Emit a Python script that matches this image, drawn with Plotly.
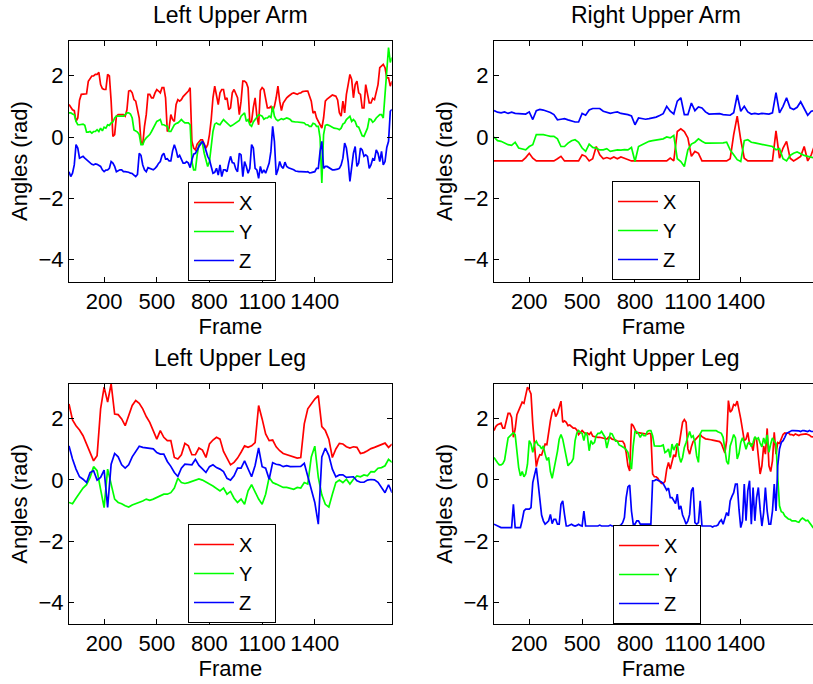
import math
import plotly.graph_objects as go

# ---------------- data ----------------
frames = list(range(0, 1841, 20))        # samples read at every 20th frame
frames_mid = list(range(10, 1841, 20))   # extra samples read in between (noisy series)

x_tick_vals = [200, 500, 800, 1100, 1400]
x_tick_text = ["200", "500", "800", "1100", "1400"]
y_tick_vals = [-4, -2, 0, 2]
y_tick_text = ["\u22124", "\u22122", "0", "2"]

titles = ["Left Upper Arm", "Right Upper Arm", "Left Upper Leg", "Right Upper Leg"]
series_names = ["X", "Y", "Z"]
series_colors = ["#ff0000", "#00ff00", "#0000ff"]

# --- Left Upper Arm ---
LUA_X = [1.06, 0.89, 0.51, 1.2, 1.39, 1.41, 1.93, 1.99, 2.04, 1.71,
         1.55, 2.04, 1.17, 0.08, 0.73, 0.73, 0.68, 1.5, 1.44, 1.17,
         0.62, -0.25, 0.73, 1.39, 1.28, 1.55, 1.44, 1.61, 0.18, 0.73,
         0.51, 1.22, 1.22, 1.39, 1.5, -0.14, -0.42, -0.14, -0.09, -0.36,
         0.08, 1.28, 1.39, 1.44, 1.55, 1.28, 0.95, 1.55, 1.28, 1.17,
         1.82, 1.61, 0.51, 1.28, 0.4, 1.61, 1.17, 0.95, 0.84, 1.28,
         1.17, 1.11, 1.28, 1.39, 1.44, 1.39, 1.44, 1.5, 1.5, 1.17,
         0.84, 0.51, 0.29, 1.17, 1.28, 1.37, 1.33, 0.79, 1.17, 1.39,
         2.04, 1.28, 1.82, 1.39, 0.95, 1.39, 1.11, 1.22, 1.71, 2.32,
         2.26, 1.93, 1.82]
LUA_X_MID = [0.97, 0.86, 0.62, 1.39, 1.39, 1.82, 1.99, 2.04, 2.11, 1.58,
             1.55, 1.99, 0.02, 0.68, 0.73, 0.73, 0.89, 1.52, 1.22, 0.84,
             -0.14, 0.35, 1.39, 1.28, 1.44, 1.5, 1.61, 1.28, 0.29, 0.57,
             1.06, 1.17, 1.32, 1.44, 1.61, -0.36, -0.23, -0.09, -0.25, -0.25,
             0.57, 1.66, 1.06, 1.55, 1.22, 0.89, 1.44, 1.39, 0.73, 1.82,
             1.77, 0.46, 0.97, 0.68, 1.52, 1.55, 0.95, 1.0, 1.0, 1.66,
             0.86, 1.22, 1.33, 1.42, 1.41, 1.43, 1.48, 1.5, 1.3, 0.78,
             0.62, 0.35, 0.62, 1.24, 1.34, 1.35, 1.21, 0.68, 0.79, 1.71,
             1.88, 1.71, 1.44, 0.95, 1.71, 1.11, 1.26, 1.44, 2.26, 2.37,
             1.93, 1.66]
LUA_Y = [0.79, 0.75, 0.51, 0.4, 0.42, 0.16, 0.18, 0.18, 0.24, 0.29,
         0.32, 0.4, 0.46, 0.62, 0.68, 0.68, 0.73, 0.79, 0.62, 0.2,
         0.08, -0.25, -0.03, 0.08, 0.29, 0.51, 0.57, 0.4, 0.35, 0.18,
         0.4, 0.46, 0.57, 0.46, 0.46, -0.8, -1.07, -0.25, -0.2, -0.8,
         -0.8, 0.18, 0.46, 0.4, 0.57, 0.46, 0.35, 0.42, 0.49, 0.68,
         0.79, 0.57, 0.35, 0.57, 0.73, 0.68, 0.62, 0.68, 1.0, 0.57,
         0.57, 0.57, 0.62, 0.57, 0.49, 0.49, 0.49, 0.46, 0.4, 0.35,
         0.43, 0.35, -1.5, 0.38, 0.38, 0.32, 0.29, 0.24, 0.42, 0.57,
         0.68, 0.57, 0.35, 0.18, 0.02, 0.29, 0.57, 0.53, 0.68, 0.73,
         1.39, 2.92, 2.59]
LUA_Y_MID = [0.79, 0.73, 0.4, 0.4, 0.38, 0.16, 0.13, 0.18, 0.18, 0.2,
             0.29, 0.38, 0.49, 0.68, 0.68, 0.68, 0.79, 0.75, 0.23, 0.16,
             -0.25, -0.1, 0.02, 0.18, 0.4, 0.54, 0.4, 0.37, 0.18, 0.29,
             0.44, 0.51, 0.51, 0.46, 0.4, -1.07, -0.58, -0.17, -0.53, -0.96,
             -0.31, 0.42, 0.42, 0.49, 0.51, 0.4, 0.38, 0.46, 0.54, 0.75,
             0.51, 0.4, 0.49, 0.68, 0.71, 0.58, 0.62, 0.64, 0.68, 0.53,
             0.6, 0.59, 0.6, 0.51, 0.49, 0.49, 0.47, 0.4, 0.35, 0.45,
             0.35, -0.03, 0.08, 0.4, 0.34, 0.29, 0.27, 0.29, 0.46, 0.62,
             0.51, 0.51, 0.32, 0.04, 0.16, 0.59, 0.48, 0.62, 0.73, 0.62,
             2.04, 2.43]
LUA_Z = [-1.13, -1.18, -0.25, -0.69, -0.63, -0.74, -0.85, -0.91, -0.89, -0.96,
         -1.13, -1.07, -0.8, -0.96, -1.1, -1.07, -1.13, -1.15, -1.19, -1.29,
         -0.53, -0.91, -1.13, -1.02, -1.07, -0.96, -0.8, -0.53, -0.71, -0.78,
         -0.25, -0.67, -0.74, -0.85, -0.85, -0.74, -0.53, -0.31, -0.14, -0.47,
         -0.74, -1.18, -1.02, -0.91, -1.07, -1.13, -0.63, -0.85, -1.13, -0.58,
         -0.8, -1.18, -0.25, -1.02, -1.35, -1.18, -1.18, -0.85, 0.35, -1.24,
         -0.8, -1.02, -0.96, -1.02, -1.07, -1.13, -1.13, -1.15, -1.13, -1.16,
         -1.13, -1.02, -0.14, -0.96, -1.0, -1.07, -1.07, -1.02, -0.69, -0.36,
         -1.45, -0.53, -0.96, -0.36, -0.63, -0.63, -0.91, -0.74, -0.53, -0.47,
         -0.8, -0.14, 0.9]
LUA_Z_MID = [-1.29, -0.91, -0.36, -0.67, -0.69, -0.8, -0.89, -0.88, -0.93, -1.07,
             -1.08, -1.02, -0.85, -1.13, -1.07, -1.13, -1.13, -1.18, -1.24, -1.22,
             -0.6, -1.07, -1.0, -1.04, -1.02, -0.86, -0.6, -0.72, -0.78, -0.45,
             -0.42, -0.6, -0.85, -0.8, -1.0, -0.56, -0.39, -0.23, -0.25, -0.63,
             -1.02, -1.15, -1.24, -1.29, -1.07, -0.85, -0.83, -1.04, -0.53, -1.29,
             -0.96, -1.02, -0.36, -1.07, -0.96, -1.07, -1.02, -0.47, -0.14, -1.07,
             -0.96, -0.82, -1.0, -1.05, -1.11, -1.13, -1.14, -1.14, -1.17, -1.14,
             -1.02, -0.47, -1.02, -0.96, -1.03, -1.07, -1.05, -0.91, -0.2, -0.8,
             -1.02, -0.31, -0.85, -0.42, -0.58, -1.02, -0.71, -0.42, -0.8, -0.91,
             -0.34, 0.84]

# --- Right Upper Arm ---
RUA_X = [-0.78, -0.78, -0.78, -0.78, -0.78, -0.78, -0.78, -0.78, -0.78, -0.67,
         -0.53, -0.69, -0.78, -0.78, -0.78, -0.78, -0.78, -0.78, -0.71, -0.63,
         -0.78, -0.78, -0.78, -0.78, -0.78, -0.58, -0.63, -0.78, -0.71, -0.31,
         -0.58, -0.71, -0.67, -0.71, -0.65, -0.71, -0.65, -0.69, -0.73, -0.78,
         -0.78, -0.78, -0.78, -0.78, -0.78, -0.78, -0.78, -0.78, -0.78, -0.78,
         -0.69, -0.78, 0.18, 0.27, 0.18, -0.03, -0.63, -0.47, -0.53, -0.78,
         -0.78, -0.78, -0.78, -0.78, -0.78, -0.78, -0.78, -0.71, 0.08, 0.68,
         -0.09, -0.69, -0.78, -0.78, -0.78, -0.78, -0.78, -0.78, -0.78, -0.78,
         0.2, -0.69, -0.36, -0.14, -0.69, -0.78, -0.71, -0.63, -0.31, -0.78,
         -0.58, -0.25]
RUA_Y = [0.0, -0.12, -0.14, -0.2, -0.25, -0.27, -0.17, -0.36, -0.38, -0.42,
         -0.31, -0.25, 0.08, 0.08, 0.08, 0.05, 0.02, 0.02, -0.06, -0.31,
         -0.31, -0.2, -0.12, -0.09, -0.17, -0.36, -0.47, -0.23, -0.34, -0.36,
         -0.42, -0.42, -0.38, -0.47, -0.45, -0.42, -0.43, -0.41, -0.42, -0.34,
         -0.8, -0.31, -0.25, -0.2, -0.14, -0.12, -0.1, -0.06, -0.06, 0.0,
         -0.03, 0.05, -0.71, -0.8, -0.96, -0.42, -0.23, -0.17, -0.06, -0.14,
         -0.2, -0.2, -0.2, -0.21, -0.2, -0.19, -0.17, -0.42, -0.58, -0.74,
         -0.8, -0.12, -0.09, -0.17, -0.19, -0.21, -0.23, -0.25, -0.27, -0.31,
         -0.42, -0.38, -0.71, -0.78, -0.6, -0.53, -0.49, -0.55, -0.6, -0.63,
         -0.67, -0.69]
RUA_Z = [0.86, 0.81, 0.79, 0.82, 0.77, 0.81, 0.77, 0.76, 0.77, 0.75,
         0.82, 0.57, 0.86, 0.9, 0.88, 0.84, 0.8, 0.73, 0.56, 0.58,
         0.6, 0.56, 0.53, 0.49, 0.49, 0.77, 0.71, 0.88, 0.93, 0.93,
         0.93, 0.84, 0.81, 0.77, 0.8, 0.82, 0.77, 0.76, 0.73, 0.69,
         0.4, 0.62, 0.6, 0.58, 0.6, 0.62, 0.65, 0.7, 0.76, 1.0,
         0.84, 0.75, 1.17, 1.28, 0.73, 0.73, 1.11, 0.86, 0.98, 0.95,
         0.82, 0.75, 0.75, 0.77, 0.76, 0.73, 0.71, 0.71, 0.79, 1.37,
         0.84, 1.0, 0.82, 0.75, 0.77, 0.75, 0.77, 0.77, 0.75, 0.79,
         1.45, 0.79, 1.0, 1.28, 0.95, 0.9, 0.97, 1.15, 0.95, 0.71,
         0.84, 0.86]

# --- Left Upper Leg ---
LUL_X = [2.48, 1.96, 1.77, 1.63, 1.44, 1.17, 0.9, 0.62, 0.79, 2.32,
         3.03, 2.54, 3.14, 2.15, 2.13, 1.99, 1.77, 2.1, 2.43, 2.59,
         2.5, 2.32, 2.07, 1.88, 1.61, 1.33, 1.61, 1.39, 1.28, 1.28,
         0.73, 0.68, 0.82, 1.19, 1.11, 0.82, 0.82, 1.04, 0.97, 0.73,
         1.17, 1.3, 1.39, 1.33, 0.93, 0.71, 0.49, 0.57, 0.71, 0.9,
         1.11, 1.06, 1.11, 1.22, 2.43, 1.99, 1.5, 1.28, 1.3, 1.08,
         0.95, 0.86, 0.82, 0.77, 0.73, 0.71, 0.73, 1.83, 2.32, 2.48,
         2.64, 2.75, 1.74, 1.61, 1.33, 0.73, 1.01, 1.19, 1.17, 1.08,
         1.04, 1.08, 1.06, 0.86, 0.89, 0.95, 1.02, 1.06, 1.1, 1.15,
         1.2, 1.06, 1.17]
LUL_Y = [-0.74, -0.78, -0.6, -0.43, -0.27, -0.16, 0.08, 0.43, 0.3, -0.31,
         -0.91, 0.35, -0.14, -0.63, -0.74, -0.78, -0.85, -0.89, -0.82, -0.78,
         -0.74, -0.69, -0.63, -0.67, -0.63, -0.58, -0.52, -0.47, -0.47, -0.42,
         -0.27, 0.05, -0.09, -0.12, -0.09, -0.05, -0.01, 0.03, -0.01, -0.09,
         -0.14, -0.2, -0.27, -0.36, -0.27, -0.47, -0.38, -0.6, -0.74, -0.63,
         -0.8, -0.36, -0.16, -0.42, -0.63, -0.8, -0.47, 0.08, -0.09, -0.14,
         -0.2, -0.25, -0.25, -0.27, -0.31, -0.25, -0.27, -0.09, -0.14, 0.75,
         1.1, 0.08, -0.49, -0.8, -0.89, -0.47, -0.09, -0.01, -0.09, 0.02,
         -0.14, 0.02, 0.13, 0.1, 0.16, 0.13, 0.27, 0.26, 0.38, 0.4,
         0.46, 0.67, 0.57]
LUL_Z = [1.11, 0.68, 0.35, 0.1, 0.02, -0.09, 0.24, 0.3, -0.01, 0.08,
         0.32, -0.9, 0.51, 0.86, 0.75, 0.49, 0.38, 0.49, 0.75, 0.93,
         1.1, 1.06, 1.04, 1.01, 1.01, 0.89, 0.84, 0.84, 0.6, 0.44,
         0.24, 0.11, 0.38, 0.51, 0.49, 0.49, 0.67, 0.47, 0.36, 0.24,
         0.43, 0.49, 0.4, 0.35, 0.27, 0.05, -0.01, 0.13, 0.38, 0.38,
         0.62, 0.38, 0.1, 0.47, 1.04, 0.43, 0.38, 0.02, 0.56, 0.51,
         0.49, 0.43, 0.46, 0.43, 0.44, 0.45, 0.44, 0.54, 0.13, -0.31,
         -0.74, -1.45, 0.75, 1.04, 0.79, 0.35, 0.1, 0.16, 0.16, 0.08,
         0.08, 0.1, -0.03, -0.08, -0.08, -0.01, 0.01, 0.0, -0.08, -0.25,
         -0.42, -0.16, -0.42]

# --- Right Upper Leg ---
RUL_X = [1.61, 1.8, 1.85, 1.69, 2.17, 2.04, 1.66, 2.26, 2.54, 2.75,
         2.94, 1.83, 0.43, 0.82, 1.04, 1.15, 1.93, 2.32, 2.17, 2.57,
         1.93, 1.77, 1.74, 1.69, 1.48, 1.61, 1.5, 1.48, 1.43, 1.39,
         1.39, 1.37, 1.33, 1.38, 1.32, 1.26, 1.26, 1.17, 0.46, 1.83,
         1.63, 1.54, 1.52, 1.5, 1.52, 0.19, 0.1, -0.05, -0.12, 0.35,
         0.35, 0.82, 1.15, 1.5, 1.97, 1.01, 1.08, 1.3, 1.41, 1.41,
         1.34, 1.33, 1.3, 1.28, 1.25, 1.04, 1.28, 2.21, 2.46, 2.57,
         1.99, 1.28, 1.55, 1.17, 1.39, 0.73, 0.46, 0.84, 0.46, 0.62,
         0.84, 1.19, 1.48, 1.52, 1.48, 1.45, 1.48, 1.48, 1.48, 1.48,
         1.41, 1.39]
RUL_X_MID = [1.74, 1.83, 1.69, 1.93, 2.17, 1.39, 2.13, 2.37, 2.5, 3.03,
             2.81, 1.01, 0.68, 0.81, 1.17, 1.61, 2.21, 2.07, 2.37, 1.88,
             1.88, 1.79, 1.69, 1.63, 1.55, 1.55, 1.53, 1.55, 1.41, 1.39,
             1.38, 1.34, 1.39, 1.33, 1.3, 1.25, 1.26, 0.89, 0.29, 1.77,
             1.52, 1.54, 1.51, 1.49, 1.5, 0.1, 0.05, -0.12, -0.05, 0.57,
             0.62, 0.75, 1.14, 1.88, 1.88, 0.84, 1.25, 1.37, 1.49, 1.37,
             1.33, 1.31, 1.29, 1.27, 1.19, 0.88, 2.59, 2.28, 2.43, 2.32,
             1.64, 1.33, 1.17, 0.95, 1.33, 0.19, 1.11, 1.68, 0.27, 1.55,
             1.22, 1.33, 1.53, 1.54, 1.48, 1.5, 1.45, 1.49, 1.5, 1.46,
             1.39]
RUL_Y = [0.73, 0.56, 0.49, 0.64, 1.37, 1.48, 1.48, 0.4, 0.27, 0.19,
         1.28, 0.9, 1.26, 1.11, 1.11, 0.64, 0.27, 0.32, 0.93, 1.48,
         1.01, 0.46, 0.58, 1.28, 1.61, 1.52, 1.55, 0.95, 1.17, 1.44,
         1.52, 1.48, 1.04, 1.52, 1.39, 1.26, 1.11, 1.04, 0.9, 0.35,
         1.58, 1.5, 1.5, 1.44, 1.61, 1.44, 1.1, 1.1, 1.14, 0.93,
         0.73, 0.97, 1.19, 0.57, 1.06, 1.44, 1.39, 1.22, 0.57, 1.61,
         1.61, 1.61, 1.61, 1.61, 1.55, 1.39, 0.6, 1.11, 1.48, 0.68,
         1.22, 1.22, 1.19, 1.08, 1.41, 1.37, 1.08, 1.17, 0.9, 1.37,
         1.19, -0.85, -1.07, -1.23, -1.29, -1.34, -1.37, -1.3, -1.29, -1.32,
         -1.48, -1.58]
RUL_Y_MID = [0.62, 0.49, 0.53, 1.01, 1.43, 1.54, 1.01, 0.13, 0.1, 0.51,
             1.17, 1.18, 1.14, 1.01, 0.84, 0.73, 0.05, 0.68, 1.33, 1.33,
             0.68, 0.53, 0.7, 1.53, 1.55, 1.28, 1.44, 1.28, 1.22, 1.52,
             1.58, 1.39, 1.33, 1.5, 1.26, 1.14, 1.08, 0.98, 0.62, 1.11,
             1.57, 1.39, 1.44, 1.58, 1.61, 1.11, 1.11, 1.11, 0.89, 1.01,
             1.17, 1.11, 0.78, 0.73, 1.22, 1.58, 1.44, 0.78, 1.5, 1.61,
             1.61, 1.61, 1.61, 1.57, 1.52, 0.89, 0.51, 1.28, 1.37, 0.86,
             1.37, 1.0, 1.22, 1.22, 1.33, 1.2, 1.37, 1.47, 1.17, 1.26,
             0.08, -1.04, -1.18, -1.28, -1.34, -1.34, -1.39, -1.25, -1.34, -1.42,
             -1.56]
RUL_Z = [-1.45, -1.51, -1.56, -1.56, -1.56, -1.56, -1.56, -1.56, -1.32, -0.96,
         -0.96, -0.09, 0.4, -0.69, -1.34, -1.4, -1.13, -1.29, -1.45, -0.8,
         -1.13, -1.51, -1.45, -1.51, -1.45, -1.51, -1.51, -1.51, -1.51, -1.51,
         -1.48, -1.51, -1.51, -1.48, -1.51, -1.51, -1.48, -1.23, -0.23, -1.02,
         -1.45, -1.34, -1.45, -1.45, -1.45, -0.03, 0.01, -0.04, -0.12, -0.34,
         -0.58, -0.71, -0.47, -0.85, -1.29, -1.34, -0.36, -1.4, -1.4, -1.51,
         -1.51, -1.51, -1.54, -1.51, -1.37, -1.45, -1.07, -0.69, -0.42, -0.14,
         -1.56, -0.14, -0.36, -1.45, -1.34, -0.25, -1.51, -0.25, -1.45, -1.02,
         -1.02, 1.01, 1.28, 1.52, 1.58, 1.61, 1.61, 1.58, 1.61, 1.58,
         1.58, 1.58]
RUL_Z_MID = [-1.48, -1.54, -1.56, -1.56, -1.56, -0.8, -1.56, -1.56, -1.02, -0.96,
             -0.91, 0.16, -0.09, -1.15, -1.45, -1.34, -1.43, -1.29, -1.45, -0.69,
             -1.51, -1.49, -1.49, -1.49, -1.49, -1.02, -1.51, -1.51, -1.51, -1.51,
             -1.51, -1.51, -1.51, -1.51, -1.51, -1.51, -1.4, -0.58, -0.17, -1.45,
             -1.34, -1.45, -1.45, -1.45, -1.45, -0.03, -0.01, -0.07, -0.23, -0.27,
             -0.58, -0.78, -0.97, -1.15, -1.45, -1.13, -0.25, -1.45, -0.69, -1.51,
             -1.51, -1.51, -1.51, -1.48, -1.31, -1.29, -1.18, -0.54, -0.14, -0.96,
             -1.34, -1.34, -0.03, -0.25, -0.58, -0.96, -1.07, -1.02, -1.45, -0.14,
             0.46, 1.22, 1.39, 1.55, 1.61, 1.61, 1.6, 1.61, 1.6, 1.61,
             1.58]


def samples(main, mid=None):
    """Pair the read values with their frame numbers, in frame order."""
    pts = list(zip(frames, main))
    if mid is not None:
        pts += list(zip(frames_mid, mid))
    pts.sort()
    return [p[0] for p in pts], [p[1] for p in pts]


# ---------------- layout geometry ----------------
W, H = 813, 684
FONT = "Liberation Sans, Arial, Helvetica, sans-serif"
FS = 22
FS_TITLE = 23
FS_LEG = 20


def fx(p):
    return p / W


def fy(p):
    return 1 - p / H


panels = [
    dict(title=titles[0], data=[(LUA_X, LUA_X_MID), (LUA_Y, LUA_Y_MID), (LUA_Z, LUA_Z_MID)],
         xd=[69, 391.7], yd=[40.7, 281.5], xr=[0, 1838], leg=(188, 182), right=False),
    dict(title=titles[1], data=[(RUA_X, None), (RUA_Y, None), (RUA_Z, None)],
         xd=[494, 813], yd=[40.7, 281.5], xr=[0, 1810], leg=(612, 181), right=True),
    dict(title=titles[2], data=[(LUL_X, None), (LUL_Y, None), (LUL_Z, None)],
         xd=[69, 391.7], yd=[383.7, 624], xr=[0, 1838], leg=(188, 524), right=False),
    dict(title=titles[3], data=[(RUL_X, RUL_X_MID), (RUL_Y, RUL_Y_MID), (RUL_Z, RUL_Z_MID)],
         xd=[494, 813], yd=[383.7, 624], xr=[0, 1810], leg=(613, 525), right=True),
]

fig = go.Figure()
layout = dict(
    width=W, height=H,
    margin=dict(l=0, r=0, t=0, b=0, autoexpand=False),
    paper_bgcolor="white", plot_bgcolor="white",
    font=dict(family=FONT, size=FS, color="black"),
    annotations=[],
)

for i, p in enumerate(panels):
    k = "" if i == 0 else str(i + 1)
    xa, ya = "x" + k, "y" + k
    leg = "legend" + k
    for (main, mid), name, col in zip(p["data"], series_names, series_colors):
        xs, ys = samples(main, mid)
        fig.add_trace(go.Scatter(
            x=xs, y=ys, mode="lines",
            name=name + "\u00a0\u00a0\u00a0",
            line=dict(color=col, width=1.7),
            xaxis=xa, yaxis=ya, legend=leg, showlegend=True,
        ))
    layout["xaxis" + k] = dict(
        domain=[fx(p["xd"][0]), fx(p["xd"][1])], anchor=ya, range=p["xr"],
        automargin=False,
        tickmode="array", tickvals=x_tick_vals, ticktext=x_tick_text,
        ticks="inside", ticklen=5, tickcolor="black", tickwidth=1,
        showline=True, linecolor="black", linewidth=1, mirror="ticks",
        showgrid=False, zeroline=False,
        tickfont=dict(size=FS, family=FONT, color="black"),
        title=dict(text="Frame", font=dict(size=FS, family=FONT), standoff=0),
    )
    layout["yaxis" + k] = dict(
        domain=[fy(p["yd"][1]), fy(p["yd"][0])], anchor=xa,
        range=[-1.5 * math.pi, math.pi],
        automargin=False,
        tickmode="array", tickvals=y_tick_vals, ticktext=y_tick_text,
        ticks="inside", ticklen=5, tickcolor="black", tickwidth=1,
        showline=True, linecolor="black", linewidth=1,
        mirror=False if p["right"] else "ticks",
        showgrid=False, zeroline=False,
        tickfont=dict(size=FS, family=FONT, color="black"),
        title=dict(text="Angles (rad)", font=dict(size=FS, family=FONT), standoff=4),
    )
    layout[leg] = dict(
        x=fx(p["leg"][0]), y=fy(p["leg"][1]), xanchor="left", yanchor="top",
        bgcolor="white", bordercolor="black", borderwidth=1,
        font=dict(size=FS_LEG, family=FONT, color="black"),
        tracegroupgap=0, itemwidth=40,
    )
    cx = (p["xd"][0] + (p["xd"][1] if not p["right"] else 817)) / 2
    layout["annotations"].append(dict(
        text=p["title"], x=fx(cx), y=fy(p["yd"][0] - 26), xref="paper", yref="paper",
        xanchor="center", yanchor="middle", showarrow=False,
        font=dict(size=FS_TITLE, family=FONT, color="black"),
    ))

fig.update_layout(**layout)
fig.write_html(
    "out.html",
    config={"displayModeBar": False},
    post_script="document.body.style.margin='0';document.body.style.overflow='hidden';",
)
